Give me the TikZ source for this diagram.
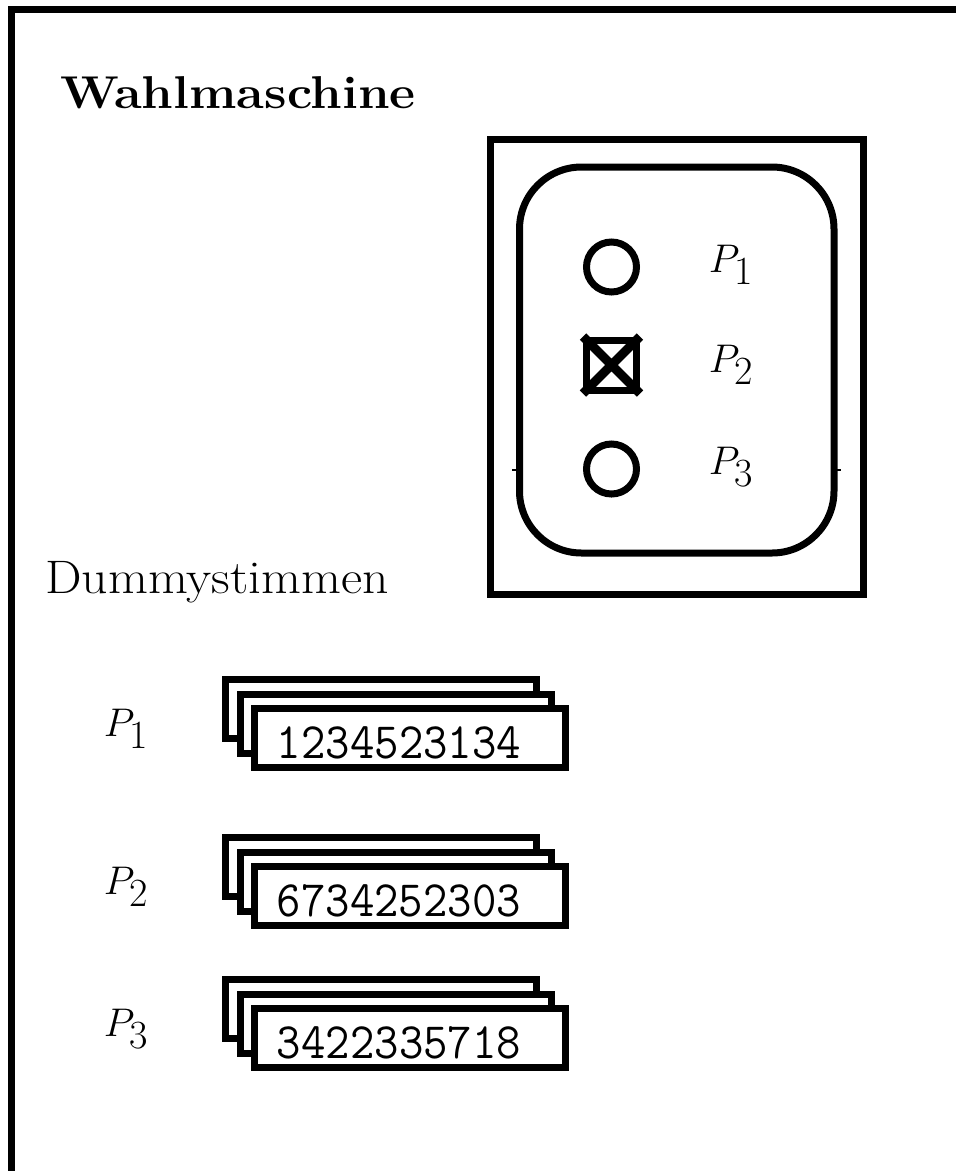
\RequirePackage{fix-cm}
\documentclass[tikz,border=0pt]{standalone}
\usepackage{amsmath}
\newcommand{\plab}[1]{$P_{\textstyle #1}$}
\begin{document}
\begin{tikzpicture}[x=1pt,y=-1pt,
  lw/.style={line width=7pt},
  card/.style={draw,lw,fill=white,rectangle,minimum width=311pt,minimum height=59pt,inner sep=0pt},
  cardnum/.style={inner sep=0pt,font=\ttfamily\fontsize{51}{51}\selectfont},
  plabel/.style={inner sep=0pt,font=\fontsize{40}{40}\selectfont},
  ballot/.style={draw,lw,circle,minimum size=50pt,inner sep=0pt}]
\useasboundingbox (0,0) rectangle (956,1171);
% frame
\coordinate (ftr) at (956,9.5);
\coordinate (ftl) at (11.5,9.5);
\coordinate (fbl) at (11.5,1171);
\draw[lw,line cap=rect] (ftr) -- (ftl) -- (fbl);
% title
\node[inner sep=0pt,anchor=base west,font=\bfseries\fontsize{46}{46}\selectfont] (title) at (60,108) {\scalebox{1.1}[1]{Wahlmaschine}};
% voting machine
\node[draw,lw,rectangle,minimum width=373pt,minimum height=455pt,inner sep=0pt] (machine) at (676.5,366.5) {};
\draw[lw,rounded corners=62pt] (519.5,167) rectangle (834,553);
\coordinate (tl1) at (512,470); \coordinate (tl2) at (519,470);
\coordinate (tr1) at (834,470); \coordinate (tr2) at (841,470);
\draw[line width=2pt] (tl1) -- (tl2) (tr1) -- (tr2);
\node[ballot] (c1) at (611.5,267) {};
\node[draw,lw,rectangle,minimum width=50pt,minimum height=50pt,inner sep=0pt] (c2) at (611.5,365) {};
\draw[line width=9pt] (c2.north west) -- (c2.south east) (c2.north east) -- (c2.south west);
\node[plabel] (m1) at (731,265) {\plab{1}};
\node[plabel] (m2) at (731,365) {\plab{2}};
\node[plabel] (m3) at (731,467) {\plab{3}};
\node[ballot] (c3) at (611.5,469) {};
% dummy votes
\node[inner sep=0pt,anchor=base west,font=\fontsize{47}{47}\selectfont] (dummy) at (45,593) {\scalebox{1.1}[1]{Dummystimmen}};
\foreach \i/\dy/\num in {1/0/1234523134, 2/158/6734252303, 3/300/3422335718}{
  \node[plabel] (p\i) at (126,729+\dy) {\plab{\i}};
  \node[card] (back\i) at (381,709+\dy) {};
  \node[card] (mid\i) at (395.5,723.5+\dy) {};
  \node[card] (front\i) at (410,738+\dy) {};
  \node[cardnum] (n\i) at (399,743+\dy) {\scalebox{0.93}[1]{\num}};
}
\end{tikzpicture}
\end{document}
